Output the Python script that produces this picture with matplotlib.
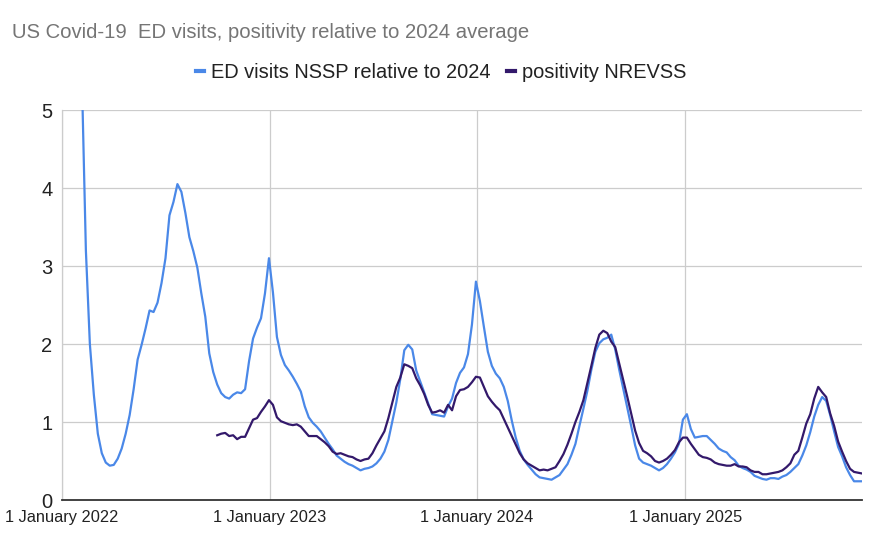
from matplotlib import pyplot as plt;
from matplotlib.lines import Line2D;
import pandas as pd;

## Weekly values (week ending Saturday), starting 1 Jan 2022
first_week = "2022-01-01";

## ED visits NSSP relative to 2024 average (first weeks go off the top of the chart)
ed_visits = [
    7.0, 8.2, 8.0, 7.4, 6.6, 5.4, 3.2, 2.0, 1.35, 0.85,
    0.60, 0.48, 0.44, 0.45, 0.53, 0.66, 0.85, 1.09, 1.42, 1.80,
    1.99, 2.20, 2.43, 2.41, 2.53, 2.78, 3.10, 3.65, 3.82, 4.05,
    3.95, 3.68, 3.37, 3.19, 2.98, 2.65, 2.35, 1.88, 1.64, 1.48,
    1.37, 1.32, 1.30, 1.35, 1.38, 1.37, 1.42, 1.78, 2.07, 2.21,
    2.33, 2.65, 3.10, 2.66, 2.09, 1.86, 1.73, 1.66, 1.58, 1.49,
    1.39, 1.20, 1.06, 0.99, 0.94, 0.88, 0.80, 0.72, 0.65, 0.57,
    0.53, 0.49, 0.46, 0.44, 0.41, 0.38, 0.40, 0.41, 0.43, 0.47,
    0.53, 0.62, 0.77, 1.01, 1.25, 1.55, 1.92, 1.99, 1.93, 1.66,
    1.52, 1.38, 1.24, 1.10, 1.09, 1.08, 1.07, 1.20, 1.30, 1.50,
    1.63, 1.70, 1.87, 2.25, 2.80, 2.55, 2.22, 1.90, 1.72, 1.62,
    1.56, 1.45, 1.27, 1.02, 0.80, 0.63, 0.52, 0.45, 0.39, 0.33,
    0.29, 0.28, 0.27, 0.26, 0.29, 0.32, 0.39, 0.46, 0.58, 0.72,
    0.95, 1.17, 1.40, 1.67, 1.90, 2.01, 2.06, 2.08, 2.12, 1.93,
    1.67, 1.43, 1.19, 0.95, 0.70, 0.53, 0.48, 0.46, 0.44, 0.41,
    0.38, 0.41, 0.46, 0.53, 0.61, 0.72, 1.03, 1.10, 0.91, 0.80,
    0.81, 0.82, 0.82, 0.77, 0.72, 0.66, 0.63, 0.61, 0.55, 0.51,
    0.44, 0.41, 0.39, 0.36, 0.31, 0.29, 0.27, 0.26, 0.28, 0.28,
    0.27, 0.30, 0.32, 0.36, 0.41, 0.46, 0.57, 0.70, 0.87, 1.07,
    1.22, 1.32, 1.27, 1.09, 0.88, 0.68, 0.56, 0.42, 0.32, 0.24,
    0.24, 0.24,
];

## positivity NREVSS, starts at week 39 (1 Oct 2022)
positivity_start = 39;
positivity = [
    0.83,
    0.85, 0.86, 0.82, 0.83, 0.78, 0.81, 0.81, 0.92, 1.03, 1.05,
    1.13, 1.20, 1.28, 1.22, 1.06, 1.01, 0.99, 0.97, 0.96, 0.97,
    0.94, 0.88, 0.82, 0.82, 0.82, 0.78, 0.74, 0.69, 0.62, 0.59,
    0.60, 0.58, 0.56, 0.55, 0.52, 0.50, 0.52, 0.53, 0.60, 0.70,
    0.79, 0.88, 1.05, 1.25, 1.45, 1.57, 1.74, 1.72, 1.69, 1.56,
    1.47, 1.36, 1.22, 1.12, 1.13, 1.15, 1.12, 1.22, 1.15, 1.33,
    1.41, 1.42, 1.45, 1.51, 1.58, 1.57, 1.45, 1.33, 1.26, 1.20,
    1.15, 1.04, 0.93, 0.82, 0.71, 0.60, 0.52, 0.47, 0.44, 0.41,
    0.38, 0.39, 0.38, 0.40, 0.42, 0.50, 0.59, 0.71, 0.85, 1.00,
    1.13, 1.28, 1.50, 1.72, 1.95, 2.12, 2.17, 2.14, 2.03, 1.96,
    1.75, 1.54, 1.33, 1.11, 0.89, 0.73, 0.63, 0.60, 0.56, 0.50,
    0.48, 0.50, 0.53, 0.58, 0.64, 0.74, 0.80, 0.80, 0.72, 0.65,
    0.58, 0.55, 0.54, 0.52, 0.48, 0.46, 0.45, 0.44, 0.44, 0.46,
    0.43, 0.43, 0.42, 0.38, 0.36, 0.36, 0.33, 0.33, 0.34, 0.35,
    0.36, 0.38, 0.42, 0.47, 0.58, 0.63, 0.80, 0.98, 1.10, 1.30,
    1.45, 1.38, 1.32, 1.11, 0.95, 0.75, 0.62, 0.50, 0.40, 0.36,
    0.35, 0.34,
];

tick_dates = ["2022-01-01", "2023-01-01", "2024-01-01", "2025-01-01"];
tick_labels = ["1 January 2022", "1 January 2023", "1 January 2024", "1 January 2025"];

title_text = "US Covid-19  ED visits, positivity relative to 2024 average";
label_ed = "ED visits NSSP relative to 2024";
label_pos = "positivity NREVSS";

blue = "#4a88e8";
purple = "#33196b";

plt.rcParams['font.family'] = ['Liberation Sans', 'DejaVu Sans'];

weeks = pd.date_range(first_week, periods=len(ed_visits), freq="W-SAT");
pos_weeks = weeks[positivity_start:positivity_start + len(positivity)];

fig = plt.figure(figsize=(8.69, 5.33), dpi=100);
ax = fig.add_axes([62/869, 1 - 500/533, 800/869, 390/533]);

ax.plot(weeks, ed_visits, color=blue, lw=1.6, zorder=3);
ax.plot(pos_weeks, positivity, color=purple, lw=1.6, zorder=4);

ax.set_ylim(0, 5);
ax.set_xlim(pd.Timestamp(first_week), weeks[-1]);
ax.set_yticks([0, 1, 2, 3, 4, 5]);
ax.set_xticks([pd.Timestamp(d) for d in tick_dates]);
ax.set_xticklabels(tick_labels);

ax.grid(True, color="#cccccc", lw=0.9);
ax.set_axisbelow(True);
ax.tick_params(axis='both', length=0, colors="#222222");
ax.tick_params(axis='x', pad=7.5, labelsize=11.8);
ax.tick_params(axis='y', pad=7, labelsize=14.5);

for side in ["top", "right"]:
    ax.spines[side].set_visible(False);
ax.spines["left"].set_color("#cccccc");
ax.spines["left"].set_linewidth(0.9);
ax.spines["bottom"].set_color("#333333");
ax.spines["bottom"].set_linewidth(1.3);

fig.text(12/869, 1 - 33/533, title_text, fontsize=14.6, color="#757575", ha="left", va="center");

handles = [
    Line2D([], [], color=blue, lw=3),
    Line2D([], [], color=purple, lw=3),
];
fig.legend(handles, [label_ed, label_pos], loc="center", bbox_to_anchor=(441.5/869, 1 - 72/533),
           ncol=2, frameon=False, fontsize=14.4, handlelength=0.4, handletextpad=0.35,
           columnspacing=0.8, labelcolor="#222222");

fig.savefig("out.png", dpi=100);
